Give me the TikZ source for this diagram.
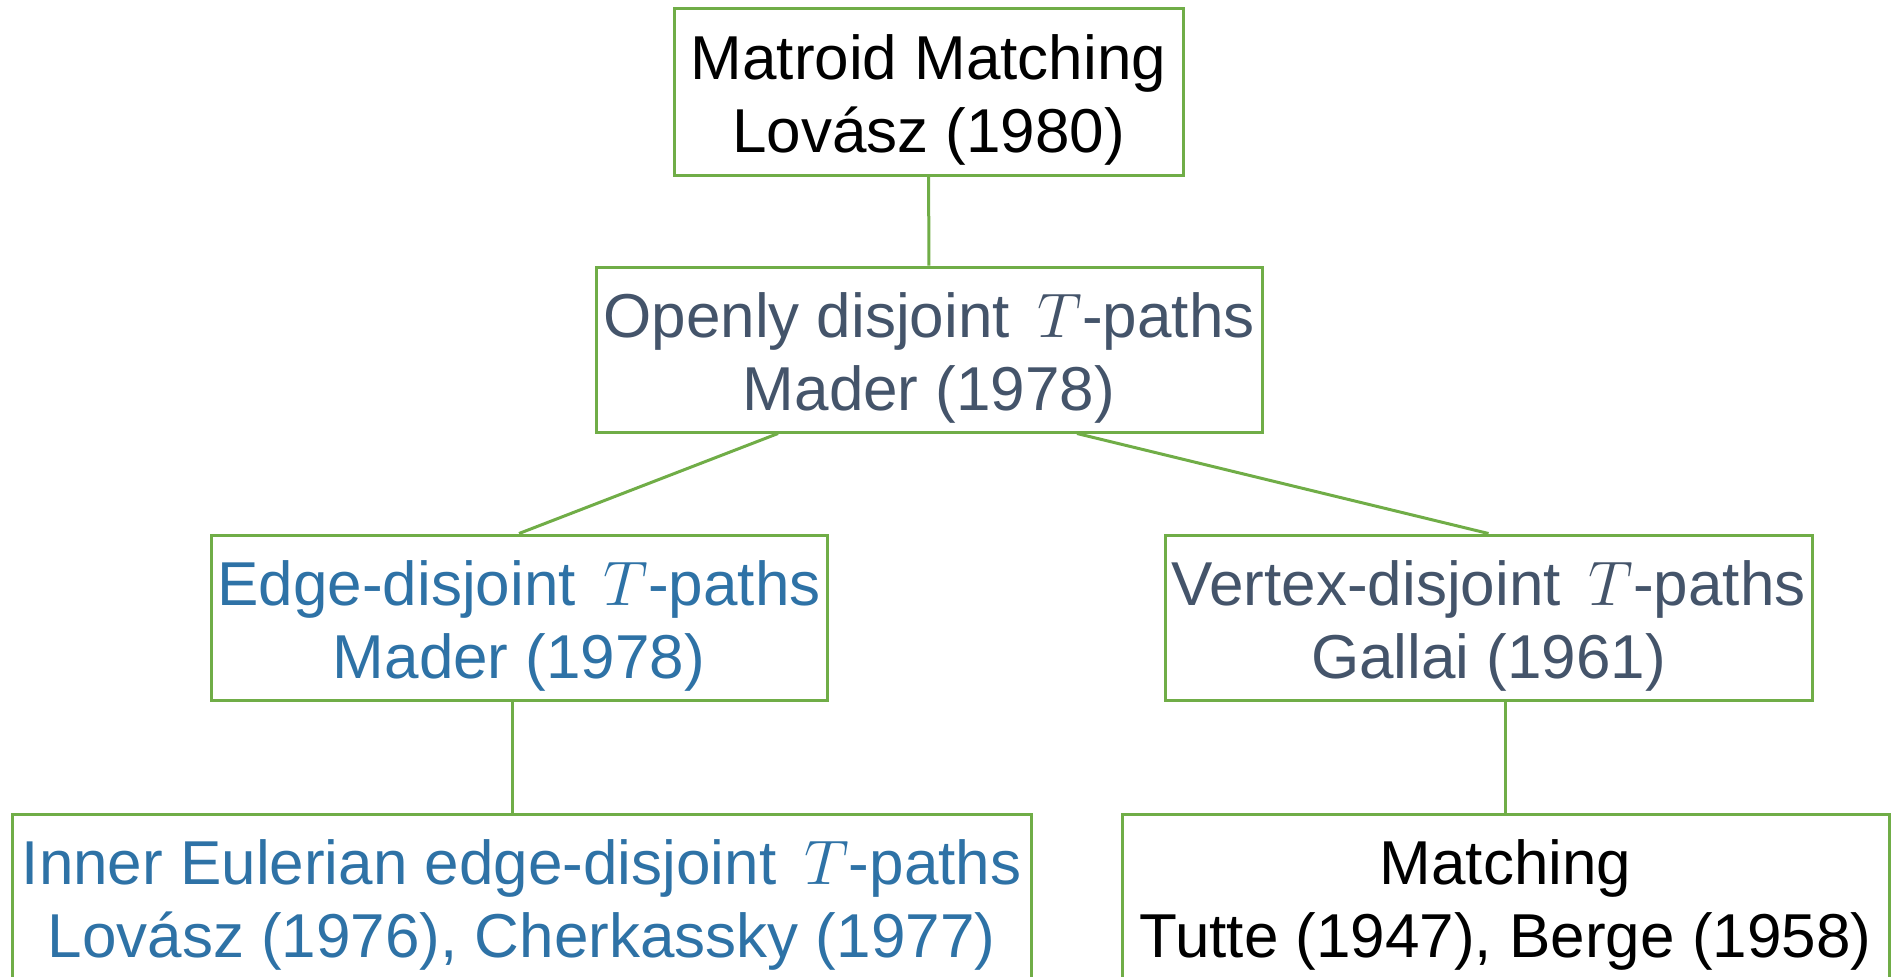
\RequirePackage{fix-cm}
\documentclass[tikz,border=0pt]{standalone}
\usepackage{fontspec}
\setmainfont{Liberation Sans}
\usepackage{amsmath}
\definecolor{boxgreen}{HTML}{70AD47}
\definecolor{slate}{HTML}{44546A}
\definecolor{steel}{HTML}{2E72A6}
\newcommand{\Tvar}{{\fontsize{31.5}{36}\selectfont$T$}}
\newcommand{\padtop}{\rule{0pt}{31pt}}

\begin{document}
\begin{tikzpicture}[x=0.5pt,y=-0.5pt,line width=1.5pt,
      main node/.style={rectangle,draw=boxgreen,align=center,inner sep=0pt,
        minimum height=82.5pt,font=\fontsize{31}{36.5}\selectfont}]

    \useasboundingbox (0,0) rectangle (1902,976);

    \node[main node,minimum width=254.5pt,minimum height=83.5pt] (1) at (928.5,91.5)
      {\padtop Matroid Matching\\Lovász (1980)};
    \node[main node,minimum width=333pt,text=slate] (2) at (929,349.5)
      {\padtop Openly disjoint \,\Tvar-paths\\Mader (1978)};
    \node[main node,minimum width=308pt,text=steel] (3) at (519,617.5)
      {\padtop Edge-disjoint \,\Tvar-paths\\Mader (1978)};
    \node[main node,minimum width=323.5pt,text=slate] (4) at (1488.5,617.5)
      {\padtop Vertex-disjoint \,\Tvar-paths\\Gallai (1961)};
    \node[main node,minimum width=509.5pt,text=steel] (5) at (521.5,896.5)
      {\padtop Inner Eulerian edge-disjoint \,\Tvar-paths\\Lovász (1976), Cherkassky (1977)};
    \node[main node,minimum width=383.5pt] (6) at (1505.5,896.5)
      {\padtop Matching\\Tutte (1947), Berge (1958)};

    \coordinate (2l) at ([xshift=-75.5pt]2.south);
    \coordinate (2r) at ([xshift=74pt]2.south);
    \coordinate (3b) at ([xshift=-3.5pt]3.south);

    \path[draw=boxgreen]
    (1) edge (2)
    (2l) edge (3.north)
    (2r) edge (4.north)
    (3b) edge (3b |- 5.north)
    (4.south -| 6.north) edge (6.north);
    \end{tikzpicture}
\end{document}
